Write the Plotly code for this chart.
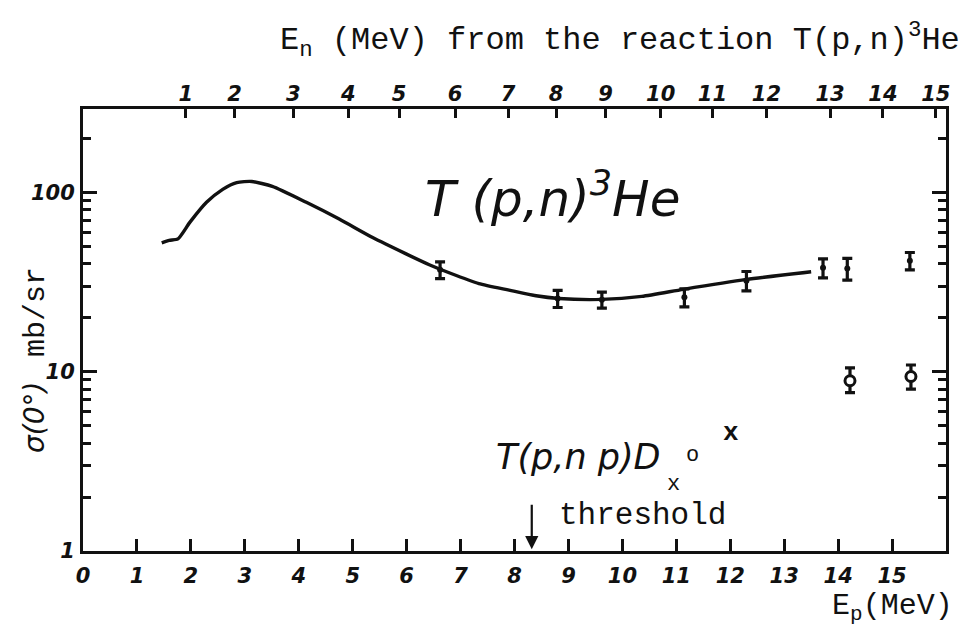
import numpy as np
import plotly.graph_objects as go

# Smooth curve: T(p,n)3He zero-degree cross section vs proton energy
curve_ep = [1.46, 1.60, 1.76, 1.98, 2.29, 2.59, 2.85, 3.13, 3.51, 4.14, 4.75,
            5.37, 5.99, 6.42, 6.80, 7.34, 7.90, 8.40, 8.82, 9.62, 10.36,
            11.13, 12.30, 13.50]
curve_sigma = [52.3, 54.0, 55.0, 68.0, 88.0, 104.0, 113.5, 115.0, 108.0, 88.0,
               71.0, 56.0, 45.4, 39.5, 35.5, 31.0, 28.5, 26.5, 25.6, 25.3,
               26.3, 28.8, 32.7, 36.1]

# Measured points, T(p,n)3He
he_ep = [6.62, 8.80, 9.62, 11.15, 12.30, 13.72, 14.17, 15.33]
he_sigma = [37.0, 25.6, 25.2, 26.0, 32.2, 38.0, 37.6, 41.6]
he_err = [4.0, 2.8, 2.6, 3.0, 4.0, 4.6, 5.2, 4.6]

# Measured points, T(p,np)D
d_ep = [14.22, 15.35]
d_sigma = [8.9, 9.4]
d_err_plus = [1.6, 1.5]
d_err_minus = [1.25, 1.4]

# Axis ticks
ep_ticks = list(range(0, 16))
en_tick_pos = [1.905, 2.81, 3.90, 4.92, 5.86, 6.90, 7.88, 8.77, 9.69, 10.71,
               11.67, 12.67, 13.85, 14.83, 15.81]
en_tick_text = [str(i) for i in range(1, 16)]
y_major = [1, 10, 100]
y_major_text = ["1", "10", "100"]
y_minor = [2, 3, 4, 5, 6, 7, 8, 9, 20, 30, 40, 50, 60, 70, 80, 90, 200]

threshold_ep = 8.32

INK = "#111111"
HAND = "DejaVu Sans"
TYPE = "Liberation Mono"

fig = go.Figure()

fig.add_trace(go.Scatter(
    x=curve_ep, y=curve_sigma, mode="lines",
    line=dict(color=INK, width=3.4, shape="spline", smoothing=0.6),
    hoverinfo="skip", showlegend=False))

fig.add_trace(go.Scatter(
    x=he_ep, y=he_sigma, mode="markers",
    marker=dict(color=INK, size=6, symbol="circle"),
    error_y=dict(type="data", array=he_err, color=INK, thickness=3.2, width=5),
    showlegend=False))

fig.add_trace(go.Scatter(
    x=d_ep, y=d_sigma, mode="markers",
    marker=dict(color="white", size=10, symbol="circle",
                line=dict(color=INK, width=3)),
    error_y=dict(type="data", symmetric=False, array=d_err_plus,
                 arrayminus=d_err_minus, color=INK, thickness=3.2, width=5),
    showlegend=False))

# carrier trace so the top (E_n) axis is drawn
fig.add_trace(go.Scatter(
    x=curve_ep, y=curve_sigma, xaxis="x2", mode="lines",
    line=dict(width=0, color="rgba(0,0,0,0)"), hoverinfo="skip",
    showlegend=False))

tick_font = dict(family=HAND, size=21, color=INK, weight="bold", style="italic")

fig.update_layout(
    width=979, height=627,
    margin=dict(l=83, r=33, t=109, b=76),
    paper_bgcolor="white", plot_bgcolor="white",
    xaxis=dict(
        range=[0, 16], tickmode="array", tickvals=ep_ticks,
        ticktext=[str(v) for v in ep_ticks],
        ticks="inside", ticklen=12, tickwidth=2.5, tickcolor=INK,
        showline=True, linewidth=3, linecolor=INK, mirror=True,
        showgrid=False, zeroline=False, tickfont=tick_font,
        ticklabelstandoff=4),
    xaxis2=dict(
        range=[0, 16], overlaying="x", side="top", tickmode="array",
        tickvals=en_tick_pos, ticktext=en_tick_text,
        ticks="inside", ticklen=9, tickwidth=2.5, tickcolor=INK,
        showline=False, showgrid=False, zeroline=False, tickfont=tick_font,
        ticklabelstandoff=3),
    yaxis=dict(
        type="log", range=[0, 2.465], tickmode="array", tickvals=y_major,
        ticktext=y_major_text, ticks="inside", ticklen=14, tickwidth=2.5,
        tickcolor=INK, showline=True, linewidth=3, linecolor=INK,
        mirror="ticks", showgrid=False, zeroline=False, tickfont=tick_font,
        ticklabelstandoff=1,
        minor=dict(tickmode="array", tickvals=y_minor, ticks="inside",
                   ticklen=8, tickwidth=2.5, tickcolor=INK, showgrid=False)),
)

def px(xp):
    return (xp - 83) / 863.0

def py(yp):
    return (551 - yp) / 442.0

ann = []
ann.append(dict(
    text="E<sub>n</sub> (MeV) from the reaction T(p,n)<sup>3</sup>He",
    x=px(620), y=py(40), xref="paper", yref="paper", showarrow=False,
    xanchor="center", yanchor="middle",
    font=dict(family=TYPE, size=32, color=INK)))
ann.append(dict(
    text="T (p,n)<sup>3</sup>He",
    x=px(552), y=py(195), xref="paper", yref="paper", showarrow=False,
    xanchor="center", yanchor="middle",
    font=dict(family=HAND, size=50, color=INK, style="italic")))
ann.append(dict(
    text="T(p,n p)D",
    x=px(578), y=py(457), xref="paper", yref="paper", showarrow=False,
    xanchor="center", yanchor="middle",
    font=dict(family=HAND, size=35, color=INK, style="italic")))
ann.append(dict(
    text="x", x=px(673), y=py(484), xref="paper", yref="paper",
    showarrow=False, xanchor="center", yanchor="middle",
    font=dict(family=TYPE, size=22, color=INK)))
ann.append(dict(
    text="o", x=px(692), y=py(455), xref="paper", yref="paper",
    showarrow=False, xanchor="center", yanchor="middle",
    font=dict(family=TYPE, size=22, color=INK)))
ann.append(dict(
    text="x", x=px(731), y=py(433), xref="paper", yref="paper",
    showarrow=False, xanchor="center", yanchor="middle",
    font=dict(family=TYPE, size=26, color=INK, weight="bold")))
ann.append(dict(
    text="threshold", x=px(642), y=py(515), xref="paper", yref="paper",
    showarrow=False, xanchor="center", yanchor="middle",
    font=dict(family=TYPE, size=31, color=INK)))
ann.append(dict(
    text="", x=threshold_ep, y=0.01, xref="x", yref="y",
    showarrow=True, arrowhead=2, arrowsize=1.2, arrowwidth=2.2,
    arrowcolor=INK, ax=0, ay=-46))
ann.append(dict(
    text="E<sub>p</sub>(MeV)", x=px(892), y=py(607), xref="paper",
    yref="paper", showarrow=False, xanchor="center", yanchor="middle",
    font=dict(family=TYPE, size=30, color=INK)))
ann.append(dict(
    text="mb/sr", x=px(36), y=py(312), xref="paper", yref="paper",
    showarrow=False, xanchor="center", yanchor="middle", textangle=-90,
    font=dict(family=TYPE, size=30, color=INK)))
ann.append(dict(
    text="σ(0°)", x=px(34), y=py(418), xref="paper", yref="paper",
    showarrow=False, xanchor="center", yanchor="middle", textangle=-90,
    font=dict(family=HAND, size=28, color=INK, style="italic")))
fig.update_layout(annotations=ann)

fig.write_html("out.html")
